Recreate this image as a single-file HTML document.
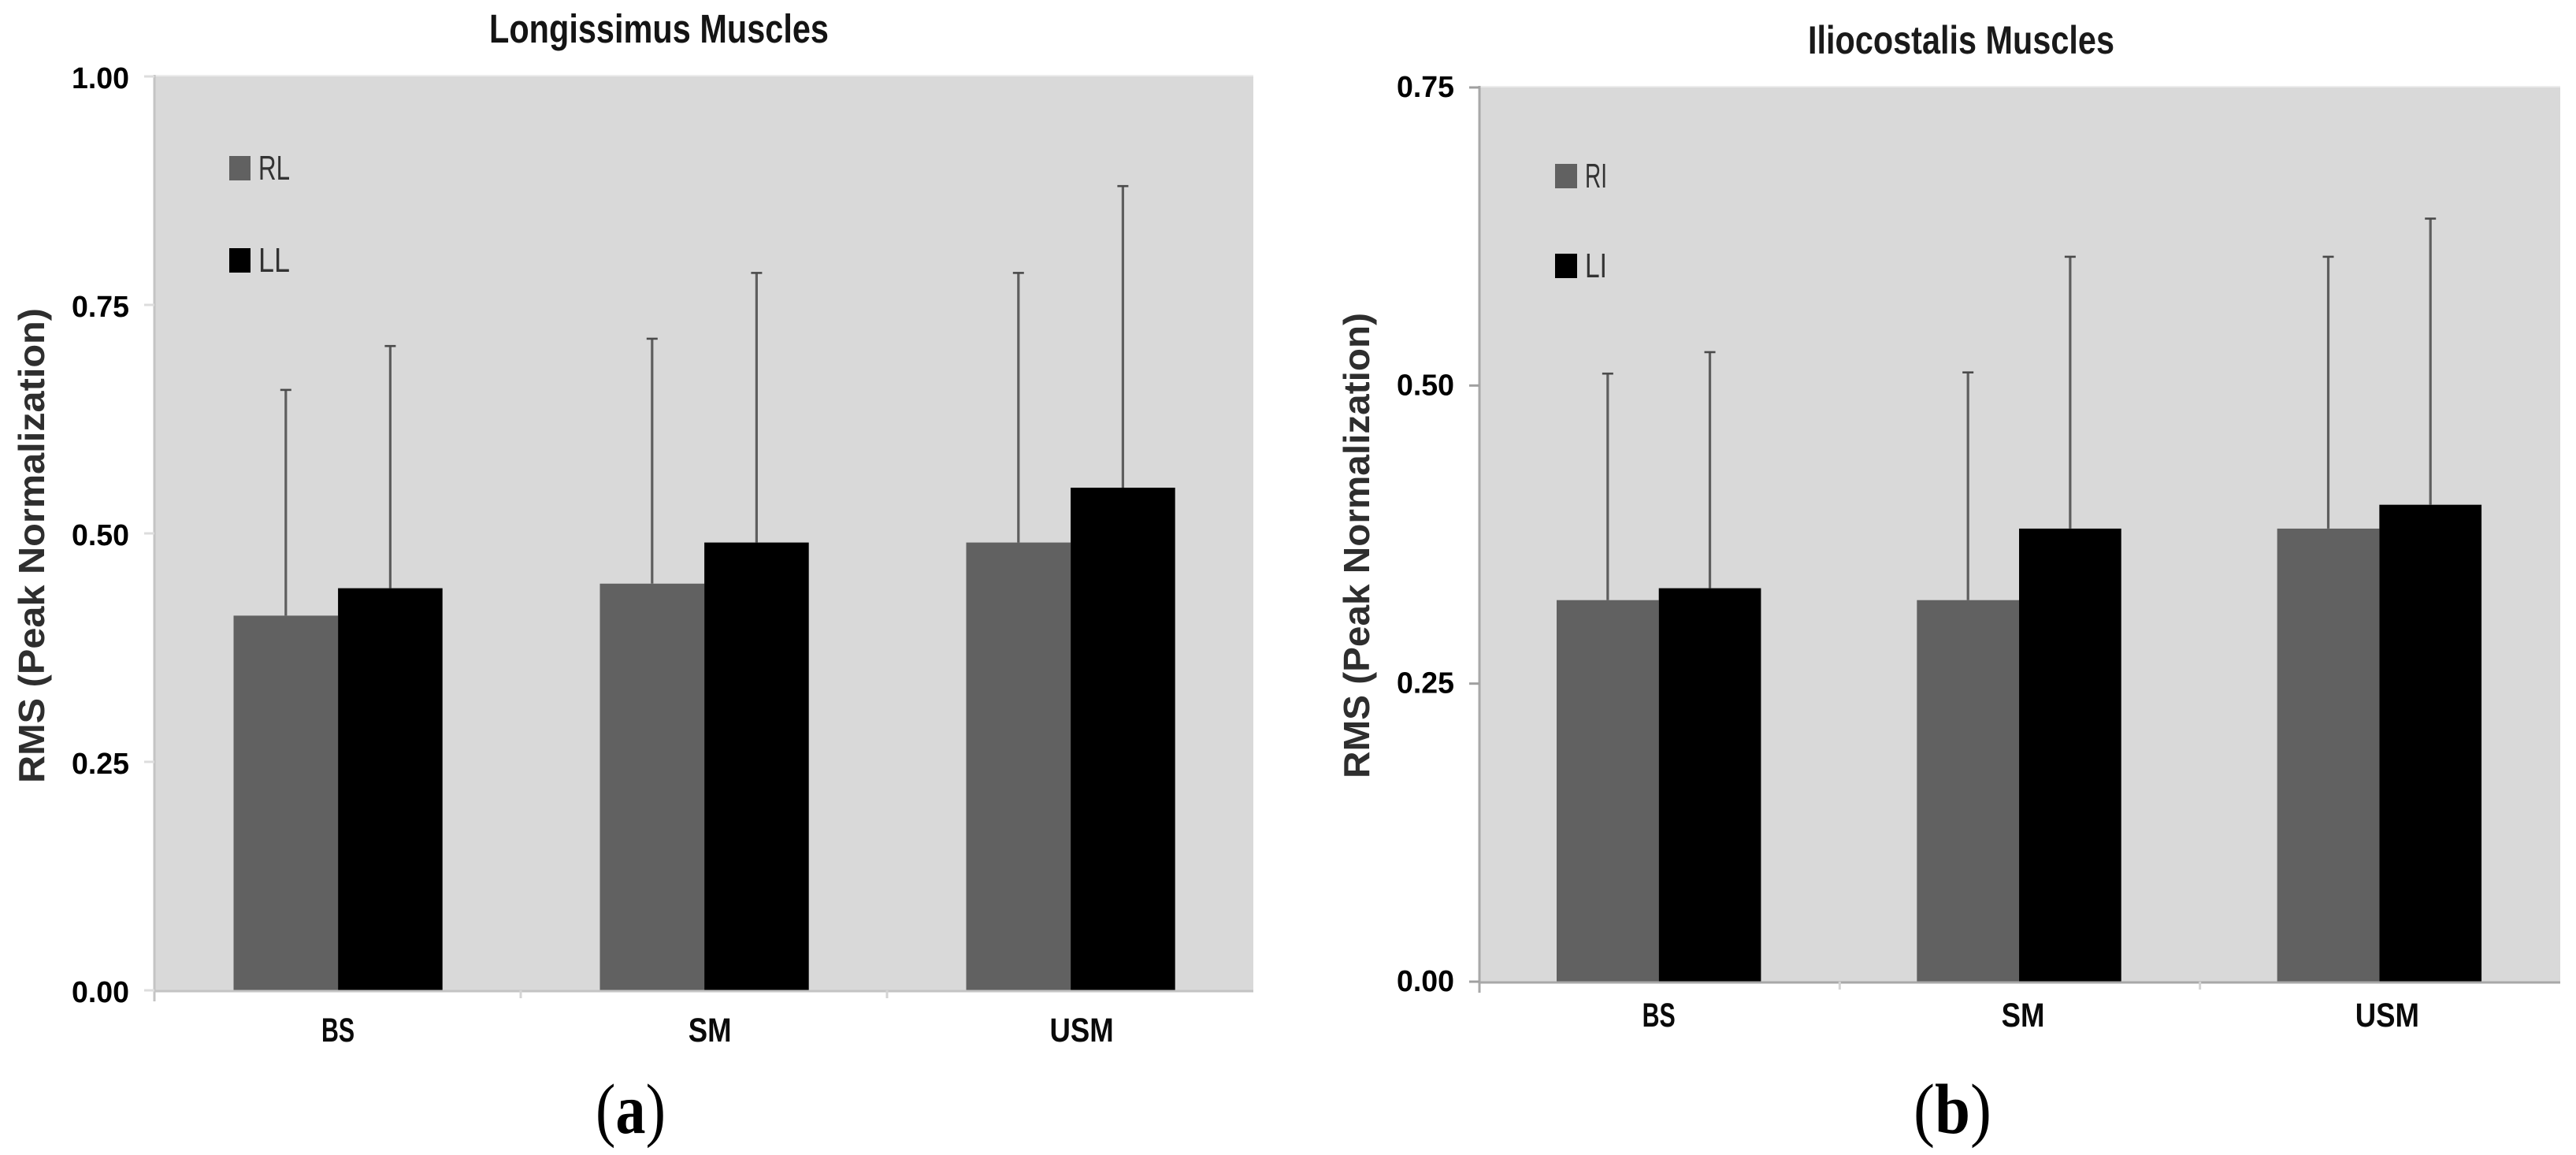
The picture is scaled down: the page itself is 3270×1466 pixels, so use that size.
<!DOCTYPE html>
<html lang="en">
<head>
<meta charset="utf-8">
<title>RMS Peak Normalization: Longissimus and Iliocostalis Muscles</title>
<style>
html,body{margin:0;padding:0;background:#fff;}
body{width:3270px;height:1466px;overflow:hidden;}
svg{display:block;}
text{font-family:"Liberation Sans",sans-serif;}
.serif{font-family:"Liberation Serif",serif;}
</style>
</head>
<body>
<svg id="figure" xmlns="http://www.w3.org/2000/svg" width="3270" height="1466" viewBox="0 0 3270 1466">
  <rect width="3270" height="1466" fill="#ffffff"/>
  <g id="panel-a"></g>
  <g id="panel-b"></g>

  <text x="621" y="54" font-size="51" font-weight="bold" fill="#141414" textLength="431" lengthAdjust="spacingAndGlyphs">Longissimus Muscles</text>
  <text x="2295" y="68" font-size="50" font-weight="bold" fill="#1a1a1a" textLength="389" lengthAdjust="spacingAndGlyphs">Iliocostalis Muscles</text>

  <text transform="translate(56 994) rotate(-90)" font-size="46" font-weight="bold" fill="#2e2e2e" textLength="603" lengthAdjust="spacingAndGlyphs">RMS (Peak Normalization)</text>
  <text transform="translate(1738 988) rotate(-90)" font-size="46" font-weight="bold" fill="#2e2e2e" textLength="591" lengthAdjust="spacingAndGlyphs">RMS (Peak Normalization)</text>

  <text class="serif" x="756" y="1438" font-size="90" fill="#000000" textLength="89" lengthAdjust="spacingAndGlyphs">(<tspan font-weight="bold">a</tspan>)</text>
  <text class="serif" x="2429" y="1438" font-size="90" fill="#000000" textLength="99" lengthAdjust="spacingAndGlyphs">(<tspan font-weight="bold">b</tspan>)</text>
</svg>
<script>
const categories = ['BS', 'SM', 'USM'];

const longissimusTicks = [0, 0.25, 0.5, 0.75, 1];
const longissimusTickLabels = ['0.00', '0.25', '0.50', '0.75', '1.00'];
const longissimusSeriesNames = ['RL', 'LL'];
const rightLongissimusValues = [0.41, 0.445, 0.49];
const leftLongissimusValues = [0.44, 0.49, 0.55];
const rightLongissimusUpper = [0.657, 0.713, 0.785];
const leftLongissimusUpper = [0.705, 0.785, 0.88];

const iliocostalisTicks = [0, 0.25, 0.5, 0.75];
const iliocostalisTickLabels = ['0.00', '0.25', '0.50', '0.75'];
const iliocostalisSeriesNames = ['RI', 'LI'];
const rightIliocostalisValues = [0.32, 0.32, 0.38];
const leftIliocostalisValues = [0.33, 0.38, 0.40];
const rightIliocostalisUpper = [0.51, 0.511, 0.608];
const leftIliocostalisUpper = [0.528, 0.608, 0.64];

const SVG_NS = 'http://www.w3.org/2000/svg';

function add(parent, tag, attrs) {
  const el = document.createElementNS(SVG_NS, tag);
  for (const key in attrs) el.setAttribute(key, attrs[key]);
  parent.appendChild(el);
  return el;
}

function drawPanel(cfg) {
  const root = document.getElementById(cfg.id);
  const yScale = v => cfg.bottom - (v / cfg.yMax) * (cfg.bottom - cfg.top);
  const catWidth = (cfg.right - cfg.left) / categories.length;
  const barX = (i, s) => cfg.left + i * catWidth + cfg.pad + s * cfg.barWidth;

  const plot = add(root, 'rect', {x: cfg.left, y: cfg.top, width: cfg.right - cfg.left, height: cfg.bottom - cfg.top, fill: '#d9d9d9'});
  
  

  const topEdge = add(root, 'rect', {x: cfg.left, y: cfg.top - 2, width: cfg.right - cfg.left, height: 2, fill: '#ececec'});
  
  

  // bars
  const seriesValues = [cfg.rightValues, cfg.leftValues];
  const seriesColors = ['#616161', '#000000'];
  seriesValues.forEach((values, s) => {
    values.forEach((value, i) => {
      const bar = add(root, 'rect', {
        x: barX(i, s), y: yScale(value), width: cfg.barWidth,
        height: cfg.bottom - yScale(value), fill: seriesColors[s]
      });
      
      
    });
  });

  // error bars
  const seriesUpper = [cfg.rightUpper, cfg.leftUpper];
  seriesUpper.forEach((uppers, s) => {
    uppers.forEach((upper, i) => {
      const cx = barX(i, s) + cfg.barWidth / 2;
      const stem = add(root, 'line', {
        x1: cx, x2: cx, y1: yScale(seriesValues[s][i]), y2: yScale(upper),
        stroke: '#5e5e5e', 'stroke-width': 3.2
      });
      
      
      const cap = add(root, 'line', {
        x1: cx - 7, x2: cx + 7, y1: yScale(upper), y2: yScale(upper),
        stroke: '#4a4a4a', 'stroke-width': 2.6
      });
      
      
    });
  });

  // axes
  const yAxis = add(root, 'line', {x1: cfg.left, x2: cfg.left, y1: cfg.top - 2, y2: cfg.bottom + 14, stroke: cfg.axisColor, 'stroke-width': 3});
  
  
  const xAxis = add(root, 'line', {x1: cfg.left, x2: cfg.right, y1: cfg.bottom + 1, y2: cfg.bottom + 1, stroke: cfg.axisColor, 'stroke-width': 3});
  
  

  // y ticks and labels
  cfg.ticks.forEach((tick, i) => {
    const tickMark = add(root, 'line', {x1: cfg.left - 13, x2: cfg.left, y1: yScale(tick), y2: yScale(tick), stroke: cfg.tickColor, 'stroke-width': 3});
    
    
    const label = add(root, 'text', {
      x: cfg.left - cfg.labelGap, y: yScale(tick) + cfg.labelDrop,
      'font-size': 38, 'font-weight': 'bold', fill: '#000000', 'text-anchor': 'end',
      textLength: 73, lengthAdjust: 'spacingAndGlyphs'
    });
    label.textContent = cfg.tickLabels[i];
    
    
  });

  // x ticks and labels
  for (let i = 1; i < categories.length; i++) {
    const x = cfg.left + i * catWidth;
    const tickMark = add(root, 'line', {x1: x, x2: x, y1: cfg.bottom, y2: cfg.bottom + 10, stroke: '#d4d4d4', 'stroke-width': 3});
    
    
  }
  categories.forEach((name, i) => {
    const cx = barX(i, 1) + i * cfg.labelDrift;
    const label = add(root, 'text', {
      x: cx, y: cfg.xLabelBaseline, 'font-size': 43, 'font-weight': 'bold',
      fill: '#0a0a0a', 'text-anchor': 'middle'
    });
    label.textContent = name;
    
    
    const natural = label.getComputedTextLength();
    label.setAttribute('textLength', natural * 0.85 * (name === 'BS' ? 0.83 : 1));
    label.setAttribute('lengthAdjust', 'spacingAndGlyphs');
  });

  // legend
  cfg.seriesNames.forEach((name, s) => {
    const swatchTop = cfg.legendTop + s * cfg.legendStep;
    const swatch = add(root, 'rect', {x: cfg.legendX, y: swatchTop, width: cfg.swatchWidth, height: 31, fill: seriesColors[s]});
    
    
    const label = add(root, 'text', {
      x: cfg.legendX + cfg.swatchWidth + 10, y: swatchTop + 30, 'font-size': 44,
      fill: '#333333', textLength: cfg.legendTextWidth, lengthAdjust: 'spacingAndGlyphs'
    });
    label.textContent = name;
    
    
  });
}

drawPanel({
  id: 'panel-a', left: 196, right: 1591, top: 97, bottom: 1257, yMax: 1,
  pad: 100.5, barWidth: 132.6, labelGap: 32, labelDrop: 15, labelDrift: 7, xLabelBaseline: 1322,
  axisColor: '#c4c4c4', tickColor: '#dddddd',
  ticks: longissimusTicks, tickLabels: longissimusTickLabels, seriesNames: longissimusSeriesNames,
  rightValues: rightLongissimusValues, leftValues: leftLongissimusValues,
  rightUpper: rightLongissimusUpper, leftUpper: leftLongissimusUpper,
  legendX: 291, legendTop: 198, legendStep: 117, swatchWidth: 27, legendTextWidth: 40
});

drawPanel({
  id: 'panel-b', left: 1878, right: 3250, top: 111, bottom: 1246, yMax: 0.75,
  pad: 98, barWidth: 129.7, labelGap: 32, labelDrop: 12, labelDrift: 5, xLabelBaseline: 1303,
  axisColor: '#a8a8a8', tickColor: '#a0a0a0',
  ticks: iliocostalisTicks, tickLabels: iliocostalisTickLabels, seriesNames: iliocostalisSeriesNames,
  rightValues: rightIliocostalisValues, leftValues: leftIliocostalisValues,
  rightUpper: rightIliocostalisUpper, leftUpper: leftIliocostalisUpper,
  legendX: 1974, legendTop: 208, legendStep: 114, swatchWidth: 28, legendTextWidth: 28
});
</script>
</body>
</html>
